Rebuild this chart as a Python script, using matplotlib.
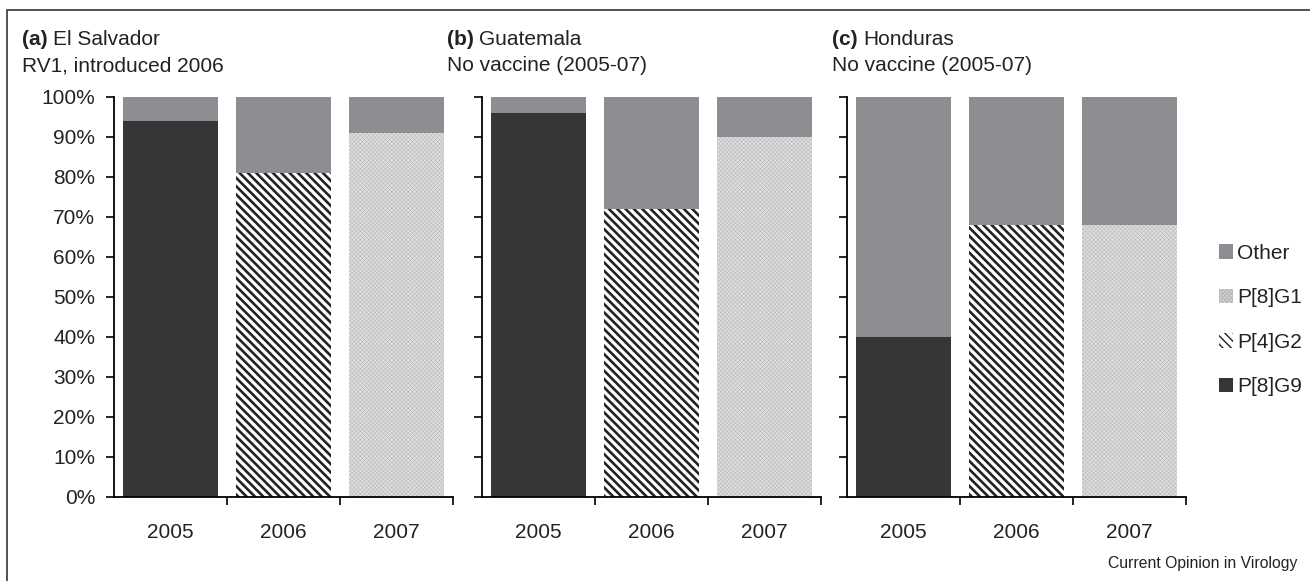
import matplotlib
matplotlib.use("Agg")
from matplotlib import pyplot as plt
from matplotlib.patches import Rectangle, Patch
import numpy as np

plt.rcParams['font.family'] = ['Liberation Sans', 'DejaVu Sans']

# Rotavirus genotype share per year, fraction of strains
years = ["2005", "2006", "2007"]
countries = ["El Salvador", "Guatemala", "Honduras"]
letters = ["(a)", "(b)", "(c)"]
subtitles = ["RV1, introduced 2006", "No vaccine (2005-07)", "No vaccine (2005-07)"]

# main genotype of each year: 2005 = P[8]G9, 2006 = P[4]G2, 2007 = P[8]G1
main_share = {
    "El Salvador": [0.94, 0.81, 0.91],
    "Guatemala":   [0.96, 0.72, 0.90],
    "Honduras":    [0.40, 0.68, 0.68],
}
main_type = ["P[8]G9", "P[4]G2", "P[8]G1"]

c_other = "#8e8e92"
c_g9 = "#363636"
styles = {
    "P[8]G9": dict(facecolor=c_g9, edgecolor=c_g9, hatch=None),
    "P[4]G2": dict(facecolor="white", edgecolor="#222222", hatch="\\\\\\\\"),
    "P[8]G1": dict(facecolor="#dedede", edgecolor="#b8b8b8", hatch="xxxxxxxx"),
}
hatch_lw = {"P[8]G9": 1.0, "P[4]G2": 1.9, "P[8]G1": 0.35}

FS = 15
fig = plt.figure(figsize=(13.1, 5.81), dpi=100)
W, H = 1310, 581

# outer frame, only top and left edges fall inside the canvas
fig.patches.append(Rectangle((7 / W, -0.1), 1.2, 1 - 10 / H + 0.1,
                             transform=fig.transFigure, fill=False,
                             edgecolor="#444444", linewidth=1.3))

lefts = [114, 482, 847]
x = np.arange(3)
for k, country in enumerate(countries):
    ax = fig.add_axes([lefts[k] / W, 1 - 497 / H, 339 / W, 400 / H])
    vals = main_share[country]
    for i in range(3):
        st = styles[main_type[i]]
        with plt.rc_context({"hatch.linewidth": hatch_lw[main_type[i]]}):
            ax.bar(x[i], vals[i], width=0.84, color=st["facecolor"],
                   edgecolor=st["edgecolor"], hatch=st["hatch"], linewidth=0)
        ax.bar(x[i], 1 - vals[i], bottom=vals[i], width=0.84,
               color=c_other, linewidth=0)
    ax.set_xlim(-0.5, 2.5)
    ax.set_ylim(0, 1)
    ax.set_yticks(np.arange(0, 1.01, 0.1))
    if k == 0:
        ax.set_yticklabels([f"{int(round(v * 100))}%" for v in np.arange(0, 1.01, 0.1)])
    else:
        ax.set_yticklabels([])
    ax.set_xticks(x)
    ax.set_xticklabels(years)
    ax.set_xticks([0.5, 1.5, 2.5], minor=True)
    ax.tick_params(axis="x", which="major", length=0, pad=19, labelsize=FS,
                   labelcolor="#222222")
    ax.tick_params(axis="x", which="minor", length=5.5, width=1.2, direction="out")
    ax.tick_params(axis="y", length=5.5, width=1.2, direction="out", pad=8,
                   labelsize=FS, labelcolor="#222222")
    for s in ["top", "right"]:
        ax.spines[s].set_visible(False)
    for s in ["left", "bottom"]:
        ax.spines[s].set_linewidth(1.3)

    # panel heading: bold letter, country name, then vaccine status
    tx = [22, 447, 832][k] / W
    lab = fig.text(tx, 1 - 49 / H, letters[k], fontsize=FS, fontweight="bold",
                   color="#222222", va="bottom")
    fig.add_artist(plt.Annotation(country, xy=(1, 0), xycoords=lab,
                                  xytext=(4, 0), textcoords="offset points",
                                  fontsize=FS, color="#222222", va="bottom"))
    fig.text(tx, 1 - 71 / H, subtitles[k], fontsize=FS, color="#222222",
             va="baseline")

# legend, drawn top to bottom
leg_labels = ["Other", "P[8]G1", "P[4]G2", "P[8]G9"]
handles = [Patch(facecolor=c_other, linewidth=0)]
for name in ["P[8]G1", "P[4]G2", "P[8]G9"]:
    st = styles[name]
    handles.append(Patch(facecolor=st["facecolor"], edgecolor=st["edgecolor"],
                         hatch=st["hatch"], linewidth=0))
fig.legend(handles, leg_labels, loc="center left",
           bbox_to_anchor=(1200 / W, 1 - 320 / H), frameon=False,
           fontsize=FS, labelspacing=1.22, handlelength=0.7,
           handleheight=0.7, handletextpad=0.2, labelcolor="#222222")

fig.text(1297 / W, 1 - 568 / H, "Current Opinion in Virology", fontsize=11.3,
         ha="right", va="baseline", color="#222222")

fig.savefig("out.png", dpi=100)
